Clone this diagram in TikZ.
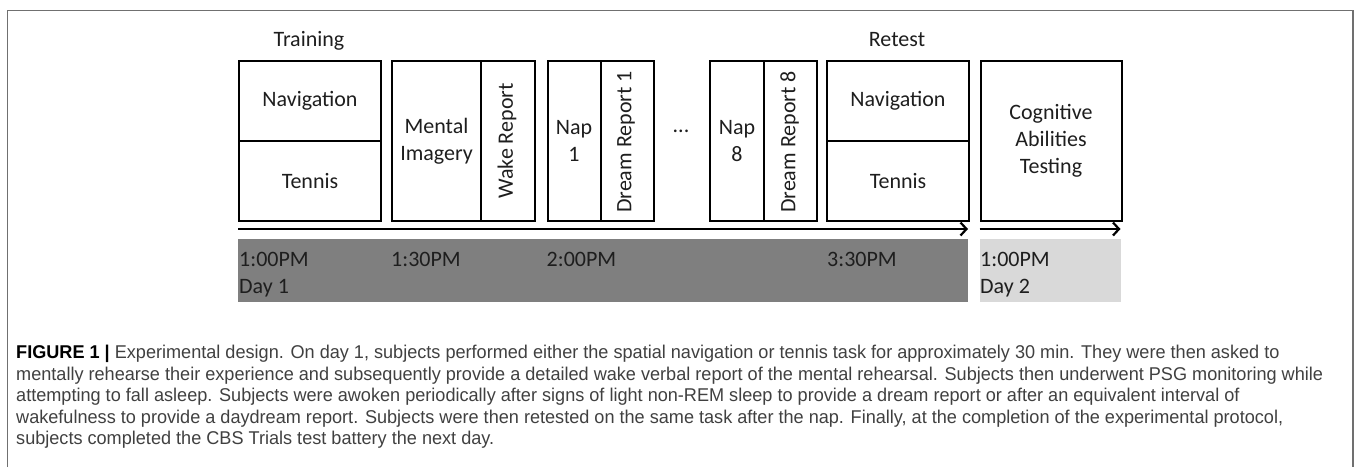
\documentclass[tikz,border=0pt]{standalone}
\usepackage{fontspec}
\usepackage{graphicx}
\setmainfont{Carlito}
\newfontfamily\capfont{Liberation Sans}
\usetikzlibrary{arrows.meta}
\definecolor{bandDark}{HTML}{7F7F7F}
\definecolor{bandLight}{HTML}{D9D9D9}
\definecolor{frameGray}{HTML}{707070}
\definecolor{txt}{HTML}{1E1E1E}
\definecolor{capgray}{HTML}{404040}
\newlength\capw
\newcommand\capLtwo{mentally rehearse their experience and subsequently provide a detailed wake verbal report of the mental rehearsal. Subjects then underwent PSG monitoring while}
\tikzset{
  box/.style={draw=black, line width=2pt, rectangle, inner sep=0pt, anchor=north west, text=txt, font=\fontsize{22pt}{27pt}\selectfont, align=center},
  lbl/.style={inner sep=0pt, text=txt, font=\fontsize{22pt}{27pt}\selectfont},
  vlbl/.style={lbl, rotate=90},
  band/.style={draw=none, inner sep=0pt, anchor=north west},
  arr/.style={line width=2.4pt, -{Straight Barb[length=6pt,width=13pt,line width=2.2pt]}},
  capline/.style={anchor=base west, inner sep=0pt, text=capgray, font=\capfont\fontsize{18.5pt}{21pt}\selectfont},
}
\begin{document}
\settowidth\capw{\capfont\fontsize{18.5pt}{21pt}\selectfont\capLtwo}%
\pgfmathsetmacro\sx{1307/\capw}%
\begin{tikzpicture}[x=1pt,y=-1pt]
\useasboundingbox (0,0) rectangle (1357,467);
% frame
\draw[frameGray, line width=1.5pt] (7.5,467) -- (7.5,10.5) -- (1353,10.5) -- (1353,467);
% labels above
\node[lbl, anchor=base] (training) at (309,46) {Training};
\node[lbl, anchor=base] (retest) at (897,46) {Retest};
% training boxes
\node[box, minimum width=142pt, minimum height=80pt] (trainNav) at (238,60) {Navigation};
\node[box, minimum width=142pt, minimum height=80pt] (trainTen) at (238,140) {Tennis};
% mental imagery + wake report
\node[box, minimum width=89pt, minimum height=160pt] (mental) at (391,60) {Mental\\Imagery};
\node[box, minimum width=53.5pt, minimum height=160pt] (wake) at (480,60) {};
\node[vlbl] (wakeT) at (507,141) {Wake Report};
% nap 1
\node[box, minimum width=53pt, minimum height=160pt] (nap1) at (546.5,60) {Nap\\1};
\node[box, minimum width=53pt, minimum height=160pt] (dream1) at (599.5,60) {};
\node[vlbl] (dream1T) at (626,142) {Dream Report 1};
% dots
\node[lbl] (dots) at (681,131) {...};
% nap 8
\node[box, minimum width=54pt, minimum height=160pt] (nap8) at (709,60) {Nap\\8};
\node[box, minimum width=53pt, minimum height=160pt] (dream8) at (763,60) {};
\node[vlbl] (dream8T) at (789.5,142) {Dream Report 8};
% retest boxes
\node[box, minimum width=142pt, minimum height=80pt] (retNav) at (826,60) {Navigation};
\node[box, minimum width=142pt, minimum height=80pt] (retTen) at (826,140) {Tennis};
% cognitive
\node[box, minimum width=141pt, minimum height=160pt] (cog) at (979.5,60) {Cognitive\\Abilities\\Testing};
% arrows
\coordinate (a1s) at (238,229);
\coordinate (a1e) at (968,229);
\coordinate (a2s) at (979.5,229);
\coordinate (a2e) at (1120.5,229);
\draw[arr] (a1s) -- (a1e);
\draw[arr] (a2s) -- (a2e);
% bands
\node[band, fill=bandDark, minimum width=730pt, minimum height=63pt] (day1band) at (238,239) {};
\node[band, fill=bandLight, minimum width=141pt, minimum height=63pt] (day2band) at (979.5,239) {};
\node[lbl, anchor=base west] (t100) at (239,266) {1:00PM};
\node[lbl, anchor=base west] (day1) at (239,293) {Day 1};
\node[lbl, anchor=base west] (t130) at (391,266) {1:30PM};
\node[lbl, anchor=base west] (t200) at (546.5,266) {2:00PM};
\node[lbl, anchor=base west] (t330) at (827,266) {3:30PM};
\node[lbl, anchor=base west] (t100b) at (980,266) {1:00PM};
\node[lbl, anchor=base west] (day2) at (980,293) {Day 2};
% caption
\node[capline] (cap1) at (16,358) {\scalebox{\sx}[1]{{\color{black}\bfseries FIGURE 1 |} Experimental design. On day 1, subjects performed either the spatial navigation or tennis task for approximately 30 min. They were then asked to}};
\node[capline] (cap2) at (16,380) {\scalebox{\sx}[1]{\capLtwo}};
\node[capline] (cap3) at (16,401.5) {\scalebox{\sx}[1]{attempting to fall asleep. Subjects were awoken periodically after signs of light non-REM sleep to provide a dream report or after an equivalent interval of}};
\node[capline] (cap4) at (16,423) {\scalebox{\sx}[1]{wakefulness to provide a daydream report. Subjects were then retested on the same task after the nap. Finally, at the completion of the experimental protocol,}};
\node[capline] (cap5) at (16,444.5) {\scalebox{\sx}[1]{subjects completed the CBS Trials test battery the next day.}};
\end{tikzpicture}
\end{document}
